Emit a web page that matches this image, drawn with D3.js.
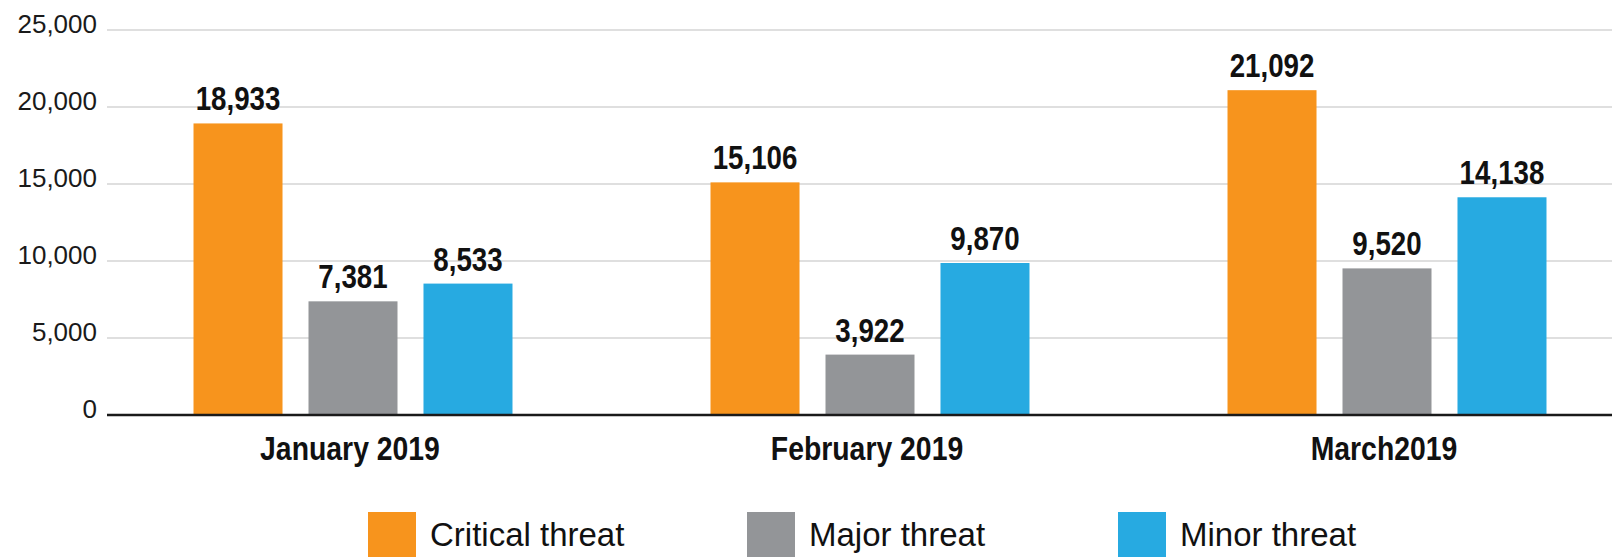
<!DOCTYPE html>
<html>
<head>
<meta charset="utf-8">
<script src="https://cdn.jsdelivr.net/npm/d3@7"></script>
<style>
  html, body { margin: 0; padding: 0; background: #fff; }
  svg { display: block; }
  text { font-family: "Liberation Sans", Arial, Helvetica, sans-serif; }
</style>
</head>
<body>
<svg id="chart" width="1612" height="557"></svg>
<script>
const months = ["January 2019", "February 2019", "March2019"];
const seriesNames = ["Critical threat", "Major threat", "Minor threat"];
const critical = [18933, 15106, 21092];
const major = [7381, 3922, 9520];
const minor = [8533, 9870, 14138];
const yTicks = [0, 5000, 10000, 15000, 20000, 25000];
const colors = ["#F7941D", "#939598", "#27AAE1"];

const values = [critical, major, minor];
const svg = d3.select("#chart");
const plotLeft = 107, plotRight = 1612;
const y = d3.scaleLinear().domain([0, 25000]).range([415, 30]);

const x0 = d3.scaleBand().domain(months).range([94.5, 1645.5]).paddingInner(0).paddingOuter(0);
const x1 = d3.scaleBand().domain(seriesNames).range([0, x0.bandwidth()])
  .paddingInner(0.226).paddingOuter(0.861);

// gridlines
svg.append("g").selectAll("line").data(yTicks.filter(d => d > 0)).join("line")
  .attr("x1", plotLeft).attr("x2", plotRight)
  .attr("y1", d => y(d)).attr("y2", d => y(d))
  .attr("stroke", "#d4d4d4").attr("stroke-width", 1.5);

// y axis labels
const yAxis = d3.axisLeft(y).tickValues(yTicks).tickFormat(d3.format(",")).tickSize(0).tickPadding(0);
const ga = svg.append("g").attr("transform", `translate(97,0)`).call(yAxis);
ga.select(".domain").remove();
ga.selectAll("text").attr("font-size", 26).attr("fill", "#1a1a1a")
  .attr("font-family", "Liberation Sans, Arial, sans-serif").attr("dy", "0.1em");

// bars
const flat = [];
months.forEach((m, i) => seriesNames.forEach((s, j) => flat.push({ m, s, j, v: values[j][i] })));

svg.append("g").selectAll("rect").data(flat).join("rect")
  .attr("x", d => x0(d.m) + x1(d.s))
  .attr("width", x1.bandwidth())
  .attr("y", d => y(d.v))
  .attr("height", d => y(0) - y(d.v))
  .attr("fill", d => colors[d.j]);

// value labels
svg.append("g").selectAll("text").data(flat).join("text")
  .attr("transform", d => `translate(${x0(d.m) + x1(d.s) + x1.bandwidth() / 2},${y(d.v) - 13}) scale(0.84,1)`)
  .attr("text-anchor", "middle")
  .attr("font-size", 33).attr("font-weight", "bold").attr("fill", "#111")
  .text(d => d3.format(",")(d.v));

// baseline
svg.append("line").attr("x1", plotLeft).attr("x2", plotRight)
  .attr("y1", y(0)).attr("y2", y(0)).attr("stroke", "#1a1a1a").attr("stroke-width", 2.5);

// category labels
svg.append("g").selectAll("text").data(months).join("text")
  .attr("transform", d => `translate(${x0(d) + x0.bandwidth() / 2 - 3},460) scale(0.86,1)`)
  .attr("text-anchor", "middle")
  .attr("font-size", 33).attr("font-weight", "bold").attr("fill", "#111")
  .text(d => d);

// legend
const legendX = [368, 747, 1118];
const lg = svg.append("g").selectAll("g").data(seriesNames).join("g")
  .attr("transform", (d, i) => `translate(${legendX[i]},512)`);
lg.append("rect").attr("width", 48).attr("height", 48).attr("fill", (d, i) => colors[i]);
lg.append("text").attr("transform", "translate(62,34)")
  .attr("font-size", 33).attr("fill", "#111").text(d => d);
</script>
</body>
</html>
